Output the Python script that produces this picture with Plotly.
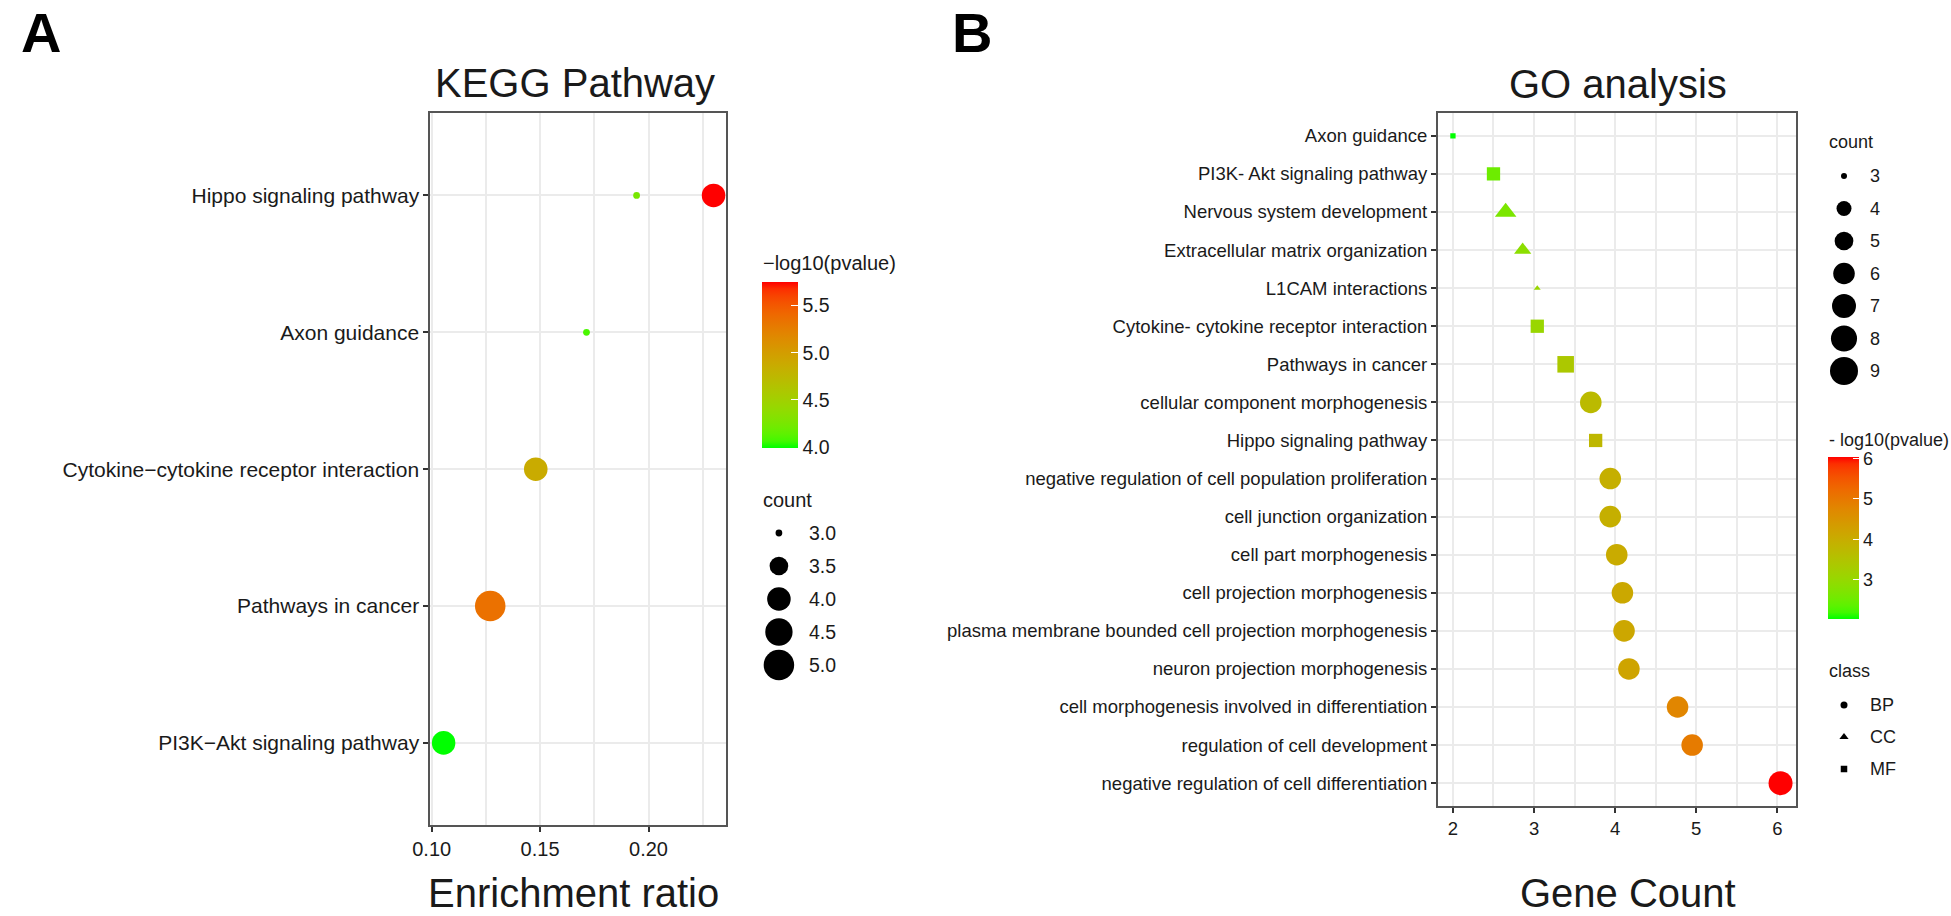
import math
import plotly.graph_objects as go

W, H = 1951, 916
FONT = "Liberation Sans, Arial, Helvetica, sans-serif"
TXT = "#1a1a1a"

# ---------------- Panel A : KEGG Pathway ----------------
kegg_categories = [
    "Hippo signaling pathway",
    "Axon guidance",
    "Cytokine\u2212cytokine receptor interaction",
    "Pathways in cancer",
    "PI3K\u2212Akt signaling pathway",
]
kegg_term = [
    "Hippo signaling pathway",
    "Hippo signaling pathway",
    "Axon guidance",
    "Cytokine\u2212cytokine receptor interaction",
    "Pathways in cancer",
    "PI3K\u2212Akt signaling pathway",
]
kegg_ratio = [0.2300, 0.1945, 0.1714, 0.1480, 0.1270, 0.1055]
kegg_count = [4, 3, 3, 4, 5, 4]
kegg_logp = [5.75, 4.25, 4.08, 4.87, 5.35, 3.99]
kegg_count_breaks = [3.0, 3.5, 4.0, 4.5, 5.0]
kegg_logp_ticks = [4.0, 4.5, 5.0, 5.5]
kegg_x_ticks = [0.10, 0.15, 0.20]

# ---------------- Panel B : GO analysis ----------------
go_terms = [
    "Axon guidance",
    "PI3K- Akt signaling pathway",
    "Nervous system development",
    "Extracellular matrix organization",
    "L1CAM interactions",
    "Cytokine- cytokine receptor interaction",
    "Pathways in cancer",
    "cellular component morphogenesis",
    "Hippo signaling pathway",
    "negative regulation of cell population proliferation",
    "cell junction organization",
    "cell part morphogenesis",
    "cell projection morphogenesis",
    "plasma membrane bounded cell projection morphogenesis",
    "neuron projection morphogenesis",
    "cell morphogenesis involved in differentiation",
    "regulation of cell development",
    "negative regulation of cell differentiation",
]
go_gene_count = [2.00, 2.50, 2.65, 2.86, 3.04, 3.04, 3.39, 3.70, 3.76,
                 3.94, 3.94, 4.02, 4.09, 4.11, 4.17, 4.77, 4.95, 6.04]
go_count = [3, 4, 5, 4, 3, 4, 5, 6, 4, 6, 6, 6, 6, 6, 6, 6, 6, 7]
go_logp = [2.02, 2.50, 2.65, 2.86, 3.04, 3.04, 3.39, 3.70, 3.76,
           3.94, 3.94, 4.02, 4.09, 4.11, 4.17, 4.77, 4.95, 6.04]
go_class = ["MF", "MF", "CC", "CC", "CC", "MF", "MF", "BP", "MF",
            "BP", "BP", "BP", "BP", "BP", "BP", "BP", "BP", "BP"]
go_count_breaks = [3, 4, 5, 6, 7, 8, 9]
go_logp_ticks = [3, 4, 5, 6]
go_x_ticks = [2, 3, 4, 5, 6]
class_levels = ["BP", "CC", "MF"]


# ---------------- colour scale: green -> red interpolated in Lab ----------------
WHITE = (0.95047, 1.0, 1.08883)


def _lin(c):
    c = c / 255.0
    return c / 12.92 if c <= 0.04045 else ((c + 0.055) / 1.055) ** 2.4


def _gam(c):
    c = max(0.0, c)
    c = 12.92 * c if c <= 0.0031308 else 1.055 * c ** (1 / 2.4) - 0.055
    return int(min(255, max(0, round(c * 255))))


def rgb2lab(rgb):
    r, g, b = [_lin(v) for v in rgb]
    X = 0.4124564 * r + 0.3575761 * g + 0.1804375 * b
    Y = 0.2126729 * r + 0.7151522 * g + 0.0721750 * b
    Z = 0.0193339 * r + 0.1191920 * g + 0.9503041 * b

    def f(t):
        return t ** (1 / 3) if t > 216 / 24389 else (24389 / 27 * t + 16) / 116

    fx, fy, fz = f(X / WHITE[0]), f(Y / WHITE[1]), f(Z / WHITE[2])
    return (116 * fy - 16, 500 * (fx - fy), 200 * (fy - fz))


def lab2rgb(lab):
    L, a, b = lab
    fy = (L + 16) / 116
    fx = fy + a / 500
    fz = fy - b / 200

    def finv(t):
        return t ** 3 if t ** 3 > 216 / 24389 else (116 * t - 16) / (24389 / 27)

    X, Y, Z = WHITE[0] * finv(fx), WHITE[1] * finv(fy), WHITE[2] * finv(fz)
    r = 3.2404542 * X - 1.5371385 * Y - 0.4985314 * Z
    g = -0.9692660 * X + 1.8760108 * Y + 0.0415560 * Z
    bb = 0.0556434 * X - 0.2040259 * Y + 1.0572252 * Z
    return "rgb(%d,%d,%d)" % (_gam(r), _gam(g), _gam(bb))


low_lab, high_lab = rgb2lab((0, 255, 0)), rgb2lab((255, 0, 0))
NSTOP = 24
colorscale = []
for i in range(NSTOP + 1):
    t = i / NSTOP
    lab = tuple(low_lab[k] + (high_lab[k] - low_lab[k]) * t for k in range(3))
    colorscale.append([t, lab2rgb(lab)])


# ---------------- size scales (area-like, as ggplot scale_size) ----------------
def size_a(c):
    lo, hi = kegg_count_breaks[0], kegg_count_breaks[-1]
    return 4.75 * (1 + 5 * math.sqrt((c - lo) / (hi - lo))) + 2.0


def size_b(c):
    lo, hi = go_count_breaks[0], go_count_breaks[-1]
    return 4.4 * (1 + 5 * math.sqrt((c - lo) / (hi - lo))) + 1.6


class_symbol = {"BP": "circle", "CC": "triangle-up", "MF": "square"}
class_factor = {"BP": 1.0, "CC": 1.0, "MF": 0.886}
class_legend_size = {"BP": 7, "CC": 8, "MF": 6.5}

fig = go.Figure()

# Panel A points
fig.add_trace(go.Scatter(
    x=kegg_ratio, y=kegg_term, mode="markers", xaxis="x", yaxis="y",
    marker=dict(size=[size_a(c) for c in kegg_count], color=kegg_logp,
                coloraxis="coloraxis", line=dict(width=0), opacity=1),
    showlegend=False, hoverinfo="x+y",
))

# Panel B points
fig.add_trace(go.Scatter(
    x=go_gene_count, y=go_terms, mode="markers", xaxis="x2", yaxis="y2",
    marker=dict(size=[size_b(c) * class_factor[k] for c, k in zip(go_count, go_class)],
                symbol=[class_symbol[k] for k in go_class],
                color=go_logp, coloraxis="coloraxis2", line=dict(width=0), opacity=1),
    showlegend=False, hoverinfo="x+y",
))

# Legend keys : panel A count
fig.add_trace(go.Scatter(
    x=[0] * len(kegg_count_breaks), y=kegg_count_breaks, mode="markers",
    xaxis="x3", yaxis="y3",
    marker=dict(size=[size_a(c) for c in kegg_count_breaks], color="black",
                line=dict(width=0), opacity=1),
    showlegend=False, hoverinfo="skip",
))
# Legend keys : panel B count
fig.add_trace(go.Scatter(
    x=[0] * len(go_count_breaks), y=go_count_breaks, mode="markers",
    xaxis="x4", yaxis="y4",
    marker=dict(size=[size_b(c) for c in go_count_breaks], color="black",
                line=dict(width=0), opacity=1),
    showlegend=False, hoverinfo="skip",
))
# Legend keys : panel B class
fig.add_trace(go.Scatter(
    x=[0] * len(class_levels), y=class_levels, mode="markers",
    xaxis="x5", yaxis="y5",
    marker=dict(size=[class_legend_size[k] for k in class_levels],
                symbol=[class_symbol[k] for k in class_levels],
                color="black", line=dict(width=0), opacity=1),
    showlegend=False, hoverinfo="skip",
))


def px_x(v):
    return v / W


def px_y(v):
    return 1 - v / H


axis_common = dict(
    showline=True, mirror=True, linecolor="#555555", linewidth=1.6,
    ticks="outside", ticklen=5, tickwidth=1.5, tickcolor="#333333",
    showgrid=True, gridcolor="#EBEBEB", gridwidth=2, zeroline=False,
)

hidden = dict(visible=False, showgrid=False, zeroline=False, fixedrange=True)

fig.update_layout(
    width=W, height=H,
    margin=dict(l=0, r=0, t=0, b=0),
    paper_bgcolor="white", plot_bgcolor="white",
    showlegend=False,
    font=dict(family=FONT, color=TXT),
    xaxis=dict(**axis_common, domain=[px_x(416), px_x(714.5)], anchor="y",
               range=[0.0993, 0.2357], tickvals=kegg_x_ticks,
               ticktext=["%.2f" % v for v in kegg_x_ticks],
               tickfont=dict(size=20, color=TXT, family=FONT),
               minor=dict(dtick=0.025, tick0=0.1, showgrid=True,
                          gridcolor="#EBEBEB", gridwidth=1.6, ticks="")),
    yaxis=dict(**axis_common, domain=[px_y(825), px_y(113.3)], anchor="x",
               type="category", categoryorder="array", categoryarray=kegg_categories,
               range=[len(kegg_categories) - 0.4, -0.6],
               tickfont=dict(size=21, color=TXT, family=FONT)),
    xaxis2=dict(**axis_common, domain=[px_x(1433), px_x(1795)], anchor="y2",
                range=[1.813, 6.236], tickvals=go_x_ticks,
                ticktext=[str(v) for v in go_x_ticks],
                tickfont=dict(size=18.5, color=TXT, family=FONT),
                minor=dict(dtick=0.5, tick0=2, showgrid=True,
                           gridcolor="#EBEBEB", gridwidth=1.6, ticks="")),
    yaxis2=dict(**axis_common, domain=[px_y(806), px_y(113)], anchor="x2",
                type="category", categoryorder="array", categoryarray=go_terms,
                range=[len(go_terms) - 0.4, -0.6],
                tickfont=dict(size=18.5, color=TXT, family=FONT)),
    xaxis3=dict(**hidden, domain=[px_x(748), px_x(788)], anchor="y3", range=[-1, 1]),
    yaxis3=dict(**hidden, domain=[px_y(700), px_y(500)], anchor="x3", range=[5.530, 2.5]),
    xaxis4=dict(**hidden, domain=[px_x(1823), px_x(1863)], anchor="y4", range=[-1, 1]),
    yaxis4=dict(**hidden, domain=[px_y(400), px_y(150)], anchor="x4", range=[9.892, 2.2]),
    xaxis5=dict(**hidden, domain=[px_x(1823), px_x(1863)], anchor="y5", range=[-1, 1]),
    yaxis5=dict(**hidden, domain=[px_y(785), px_y(689)], anchor="x5",
                type="category", categoryorder="array", categoryarray=class_levels,
                range=[2.5, -0.5]),
    coloraxis=dict(
        colorscale=colorscale, cmin=min(kegg_logp), cmax=max(kegg_logp),
        colorbar=dict(
            x=px_x(751), xanchor="left", y=px_y(365), yanchor="middle",
            len=166, lenmode="pixels", thickness=36, thicknessmode="pixels",
            xpad=0, ypad=0, outlinewidth=0, ticks="inside", ticklen=7,
            tickcolor="white", tickwidth=1.2,
            tickvals=kegg_logp_ticks, ticktext=["%.1f" % v for v in kegg_logp_ticks],
            tickfont=dict(size=19.5, color=TXT, family=FONT),
        ),
    ),
    coloraxis2=dict(
        colorscale=colorscale, cmin=min(go_logp), cmax=max(go_logp),
        colorbar=dict(
            x=px_x(1827), xanchor="left", y=px_y(538), yanchor="middle",
            len=162, lenmode="pixels", thickness=31, thicknessmode="pixels",
            xpad=0, ypad=0, outlinewidth=0, ticks="inside", ticklen=6,
            tickcolor="white", tickwidth=1.2,
            tickvals=go_logp_ticks, ticktext=[str(v) for v in go_logp_ticks],
            tickfont=dict(size=18, color=TXT, family=FONT),
        ),
    ),
)

ann = []


def text(x, y, s, size, xanchor="center", yanchor="middle", bold=False, xref="paper", yref="paper"):
    ann.append(dict(
        x=x, y=y, xref=xref, yref=yref, text=("<b>%s</b>" % s) if bold else s,
        showarrow=False, xanchor=xanchor, yanchor=yanchor, borderpad=0,
        font=dict(size=size, color="black" if bold else TXT, family=FONT),
    ))


# panel letters
text(px_x(2), 1.0, "A", 56, xanchor="left", yanchor="top", bold=True)
text(px_x(942), 1.0, "B", 56, xanchor="left", yanchor="top", bold=True)
# titles
text(px_x(562.6), px_y(82.5), "KEGG Pathway", 40)
text(px_x(1615), px_y(84.5), "GO analysis", 40)
text(px_x(560.5), 0.0, "Enrichment ratio", 40, yanchor="bottom")
text(px_x(1625), 0.0, "Gene Count", 40, yanchor="bottom")
# panel A legends
text(px_x(751), px_y(263), "\u2212log10(pvalue)", 20, xanchor="left")
text(px_x(751), px_y(500), "count", 20, xanchor="left")
for c in kegg_count_breaks:
    text(px_x(797), c, "%.1f" % c, 19.5, xanchor="left", yref="y3")
# panel B legends
text(px_x(1827), px_y(142), "count", 18, xanchor="left")
for c in go_count_breaks:
    text(px_x(1868), c, str(c), 18, xanchor="left", yref="y4")
text(px_x(1827), px_y(440), "- log10(pvalue)", 18, xanchor="left")
text(px_x(1827), px_y(671), "class", 18, xanchor="left")
for k in class_levels:
    text(px_x(1868), k, k, 18, xanchor="left", yref="y5")

fig.update_layout(annotations=ann)

fig.write_html("out.html", config={"displayModeBar": False},
               post_script="document.body.style.margin='0';")
